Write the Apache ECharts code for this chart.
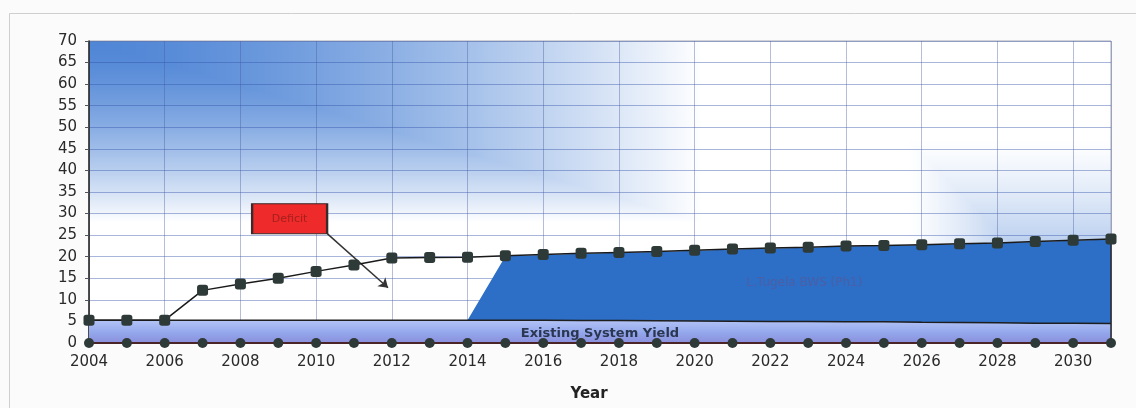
<!DOCTYPE html>
<html>
<head>
<meta charset="utf-8">
<script src="https://cdn.jsdelivr.net/npm/echarts@6/dist/echarts.min.js"></script>
<style>
html,body{margin:0;padding:0;background:#fbfbfc;}
#chart{width:1136px;height:408px;}
</style>
</head>
<body>
<div id="chart"></div>
<script>
// ---- data ----
var years = [2004,2005,2006,2007,2008,2009,2010,2011,2012,2013,2014,2015,2016,2017,2018,2019,2020,2021,2022,2023,2024,2025,2026,2027,2028,2029,2030,2031];
var demand = [5.3,5.3,5.3,12.2,13.7,15.0,16.6,18.1,19.7,19.8,19.9,20.2,20.5,20.8,21.0,21.2,21.5,21.8,22.0,22.2,22.5,22.6,22.8,23.0,23.2,23.5,23.8,24.1];
var existingYield = [5.3,5.3,5.3,5.3,5.3,5.3,5.3,5.3,5.3,5.3,5.3,5.3,5.25,5.2,5.2,5.15,5.1,5.05,5.0,5.0,4.95,4.9,4.8,4.75,4.7,4.6,4.55,4.5];
var tugela = [0,0,0,0,0,0,0,0,0,0,0,14.8,15.15,15.5,15.7,15.95,16.3,16.65,16.9,17.1,17.45,17.6,17.9,18.15,18.4,18.8,19.15,19.5];
var baseline = [0,0,0,0,0,0,0,0,0,0,0,0,0,0,0,0,0,0,0,0,0,0,0,0,0,0,0,0];
var yTicks = {min:0, max:70, interval:5};
var xTicks = {min:2004, max:2031, interval:2};

function pairs(vals){ return years.map(function(y,i){ return [y, vals[i]]; }); }
// cumulative supply (existing + L.Tugela), stacked by hand
var supplyTop = years.map(function(y,i){ return [y, existingYield[i] + tugela[i]]; });

var W = 1136, H = 408;
var GRID = {left: 89, right: 25, top: 41, bottom: 65};

// plot-area fill: blue from the top-left corner, white centre, blue towards the bottom-right corner
function makePlotFill(){
  var c = document.createElement('canvas');
  c.width = W; c.height = H;
  var ctx = c.getContext('2d');
  var gx = GRID.left, gy = GRID.top, gw = W - GRID.left - GRID.right, gh = H - GRID.top - GRID.bottom;
  var img = ctx.createImageData(W, H);
  var blue = [80, 134, 214];
  for (var y = 0; y < H; y++) {
    for (var x = 0; x < W; x++) {
      var xn = Math.min(1, Math.max(0, (x - gx) / gw));
      var yn = Math.min(1, Math.max(0, (y - gy) / gh));
      var a = Math.max(xn, yn);
      var i1 = Math.max(0, 1 - Math.pow(a / 0.6, 1.5));
      var dx = (gx + gw) - x, dy = (gy + gh) - y;
      var b = Math.max(dx, dy) / 205;
      var i2 = Math.pow(Math.max(0, 1 - b), 1.25) * 0.9;
      var t = Math.min(1, i1 + i2);
      var k = (y * W + x) * 4;
      img.data[k] = Math.round(255 + (blue[0] - 255) * t);
      img.data[k+1] = Math.round(255 + (blue[1] - 255) * t);
      img.data[k+2] = Math.round(255 + (blue[2] - 255) * t);
      img.data[k+3] = 255;
    }
  }
  ctx.putImageData(img, 0, 0);
  return c;
}

var FONT = 'DejaVu Sans';
var chart = echarts.init(document.getElementById('chart'));
chart.setOption({
  backgroundColor: '#fbfbfc',
  animation: false,
  graphic: [{
    type: 'rect', shape: {x: 9.5, y: 13.5, width: 1140, height: 420},
    style: {fill: 'none', stroke: '#cfcfd2', lineWidth: 1}, silent: true, z: -1
  }],
  grid: {
    left: GRID.left, right: GRID.right, top: GRID.top, bottom: GRID.bottom,
    show: true, borderColor: '#a7a9b3', borderWidth: 1,
    backgroundColor: {image: makePlotFill(), repeat: 'no-repeat'}
  },
  xAxis: {
    type: 'value', min: xTicks.min, max: xTicks.max, interval: xTicks.interval,
    name: 'Year', nameLocation: 'middle', nameGap: 44,
    nameTextStyle: {fontFamily: FONT, fontSize: 15, fontWeight: 'bold', color: '#222', padding: [0, 22, 0, 0]},
    axisLine: {lineStyle: {color: '#222', width: 1.5}},
    axisTick: {show: false},
    axisLabel: {fontFamily: FONT, fontSize: 15, color: '#2a2a2a', margin: 12, showMaxLabel: false,
      formatter: function(v){ return String(v); }},
    splitLine: {show: true, lineStyle: {color: 'rgba(70,90,160,0.4)', width: 1}}
  },
  yAxis: {
    type: 'value', min: yTicks.min, max: yTicks.max, interval: yTicks.interval,
    axisLine: {show: true, lineStyle: {color: '#222', width: 1.5}},
    axisTick: {show: true, length: 4, lineStyle: {color: '#555'}},
    axisLabel: {fontFamily: FONT, fontSize: 15, color: '#2a2a2a', margin: 12},
    splitLine: {show: true, lineStyle: {color: 'rgba(50,80,170,0.42)', width: 1}}
  },
  series: [
    {
      name: 'L.Tugela BWS (Ph1)', type: 'line', z: 2,
      data: supplyTop, symbol: 'none',
      lineStyle: {width: 0},
      areaStyle: {opacity: 1, color: '#2d6ec6'},
      markPoint: {
        symbol: 'rect', symbolSize: 1, silent: true,
        itemStyle: {color: 'rgba(0,0,0,0)'},
        label: {show: true, formatter: 'L.Tugela BWS (Ph1)', fontFamily: FONT, fontSize: 12,
          color: '#4a5fa6', position: 'inside'},
        data: [{coord: [2022.9, 14]}]
      },
      markLine: {
        symbol: 'none', silent: true, label: {show: false},
        lineStyle: {color: '#2a2a2a', width: 1.5, type: 'solid'},
        data: [[{coord: [2031, 0]}, {coord: [2031, 24.1]}]]
      }
    },
    {
      name: 'Existing System Yield', type: 'line', z: 3,
      data: pairs(existingYield), symbol: 'none',
      lineStyle: {color: '#1e1e1e', width: 1.5},
      areaStyle: {opacity: 1, color: new echarts.graphic.LinearGradient(0, 0, 0, 1, [
        {offset: 0, color: '#b3c4f6'},
        {offset: 0.55, color: '#93a7ec'},
        {offset: 1, color: '#8b8fdc'}
      ])},
      markPoint: {
        symbol: 'rect', symbolSize: 1, silent: true,
        itemStyle: {color: 'rgba(0,0,0,0)'},
        label: {show: true, formatter: 'Existing System Yield', fontFamily: FONT, fontSize: 13,
          fontWeight: 'bold', color: '#2b3650', position: 'inside'},
        data: [{coord: [2017.5, 2.2]}]
      }
    },
    {
      name: 'Baseline', type: 'line', z: 5,
      data: pairs(baseline), symbol: 'circle', symbolSize: 10,
      itemStyle: {color: '#2e3a38'},
      lineStyle: {color: '#4a2426', width: 2}
    },
    {
      name: 'Demand', type: 'line', z: 6,
      data: pairs(demand), symbol: 'roundRect', symbolSize: 11,
      itemStyle: {color: '#2e3a38'},
      lineStyle: {color: '#1a1a1a', width: 1.5},
      markPoint: {
        symbol: 'rect', symbolSize: [75, 30], silent: true,
        itemStyle: {color: '#ee2a2a', borderColor: '#3a2a2a', borderWidth: 1.5},
        label: {show: true, formatter: 'Deficit', fontFamily: FONT, fontSize: 11, color: '#a5201e', position: 'inside'},
        data: [{coord: [2009.3, 28.8]}]
      },
      markLine: {
        symbol: ['none', 'arrow'], symbolSize: 9, silent: true, label: {show: false},
        lineStyle: {color: '#333', width: 1.5, type: 'solid'},
        data: [[{coord: [2010.3, 25.3]}, {coord: [2011.9, 12.8]}]]
      }
    }
  ]
});
</script>
</body>
</html>
